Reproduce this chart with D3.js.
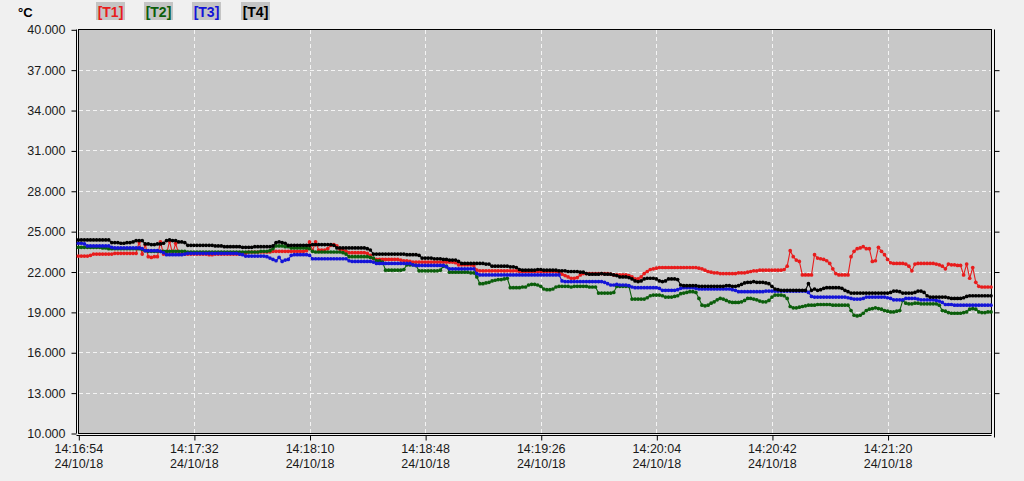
<!DOCTYPE html>
<html>
<head>
<meta charset="utf-8">
<script src="https://cdn.jsdelivr.net/npm/d3@7"></script>
<style>
  html, body { margin: 0; padding: 0; background: #f0f0f0; }
  svg { display: block; }
  text { font-family: "Liberation Sans", Arial, sans-serif; }
</style>
</head>
<body>
<svg id="chart" width="1024" height="481"></svg>
<script>
// ---- data (one sample per second, starting 14:16:54) ----
const seriesNames = ["[T1]", "[T2]", "[T3]", "[T4]"];
const seriesColors = ["#e81c1c", "#0b5e0b", "#1414d8", "#000000"];
const unitLabel = "°C";

const xTickSeconds = [0, 38, 76, 114, 152, 190, 228, 266];
const xTickTimes = ["14:16:54", "14:17:32", "14:18:10", "14:18:48", "14:19:26", "14:20:04", "14:20:42", "14:21:20"];
const xTickDate = "24/10/18";
const yTicks = [10, 13, 16, 19, 22, 25, 28, 31, 34, 37, 40];

const T1 = [
23.15,23.15,23.15,23.15,23.2,23.3,23.3,23.3,23.3,23.3,
23.3,23.3,23.35,23.35,23.35,23.35,23.35,23.35,23.35,23.35,
24.2,23.3,24.0,23.1,23.05,23.1,23.1,24.2,23.3,23.3,
24.25,23.3,24.1,23.3,23.3,23.3,23.3,23.3,23.3,23.3,
23.3,23.3,23.3,23.25,23.25,23.3,23.3,23.3,23.3,23.3,
23.3,23.3,23.3,23.3,23.35,23.35,23.45,23.45,23.45,23.45,
23.45,23.45,23.45,23.45,23.5,23.5,23.5,23.5,23.5,23.5,
23.5,23.5,23.5,23.5,23.5,23.55,24.2,23.55,24.2,23.6,
23.6,23.6,23.7,23.95,24.0,23.9,23.65,23.6,23.5,23.4,
23.4,23.4,23.4,23.4,23.4,23.35,23.2,22.95,22.9,22.9,
22.9,22.9,22.9,22.9,22.9,22.9,22.85,22.8,22.8,22.75,
22.7,22.7,22.7,22.7,22.7,22.7,22.7,22.7,22.7,22.7,
22.7,22.7,22.7,22.7,22.65,22.5,22.5,22.5,22.5,22.5,
22.45,22.1,22.05,22.05,22.05,22.05,22.05,22.05,22.05,22.05,
22.05,22.05,22.05,22.05,22.05,22.0,22.0,22.0,22.0,22.0,
22.0,22.0,22.0,22.0,22.0,22.0,22.0,22.0,21.95,21.8,
21.7,21.6,21.5,21.5,21.55,21.75,21.85,21.85,21.85,21.85,
21.85,21.85,21.85,21.85,21.85,21.8,21.75,21.75,21.75,21.75,
21.75,21.7,21.6,21.45,21.45,21.6,21.85,22.0,22.15,22.2,
22.25,22.3,22.3,22.3,22.3,22.3,22.3,22.3,22.3,22.3,
22.3,22.3,22.3,22.3,22.25,22.2,22.1,22.0,21.95,21.9,
21.9,21.85,21.85,21.85,21.85,21.85,21.85,21.9,21.9,21.9,
21.95,22.0,22.05,22.05,22.1,22.1,22.1,22.1,22.1,22.1,
22.1,22.1,22.15,22.4,23.55,23.1,22.85,22.75,21.75,21.75,
21.75,21.75,23.25,23.0,22.95,22.9,22.8,22.6,22.2,21.85,
21.75,21.75,21.75,21.75,23.1,23.5,23.7,23.75,23.85,23.7,
23.7,22.75,22.8,23.8,23.5,23.25,22.9,22.65,22.6,22.6,
22.6,22.6,22.55,22.4,22.05,22.55,22.6,22.6,22.6,22.6,
22.6,22.6,22.55,22.5,22.4,22.2,22.55,22.5,22.5,22.45,
22.45,21.75,22.55,21.5,22.3,21.2,20.9,20.85,20.85,20.85,
20.85];

const T2 = [
23.8,23.8,23.8,23.8,23.8,23.8,23.8,23.8,23.75,23.75,
23.7,23.7,23.7,23.7,23.7,23.7,23.7,23.7,23.7,23.7,
23.7,23.65,23.55,23.5,23.5,23.5,23.5,23.5,23.5,23.5,
23.5,23.5,23.5,23.5,23.5,23.5,23.45,23.45,23.45,23.45,
23.45,23.45,23.45,23.45,23.45,23.45,23.45,23.45,23.45,23.45,
23.45,23.45,23.45,23.45,23.45,23.45,23.45,23.45,23.45,23.45,
23.5,23.5,23.5,23.55,23.7,23.9,23.9,23.9,23.85,23.85,
23.75,23.75,23.75,23.75,23.75,23.75,23.7,23.5,23.45,23.45,
23.45,23.45,23.45,23.45,23.45,23.45,23.45,23.4,23.3,23.1,
23.1,23.1,23.1,23.1,23.1,23.1,23.05,23.0,22.8,22.8,
22.7,22.1,22.1,22.1,22.1,22.1,22.1,22.15,22.5,22.5,
22.5,22.45,22.05,22.05,22.05,22.05,22.05,22.05,22.05,22.1,
22.4,22.4,21.95,21.95,21.95,21.95,21.95,21.95,21.95,21.9,
21.9,21.6,21.1,21.1,21.15,21.2,21.3,21.35,21.4,21.4,
21.45,21.5,20.8,20.8,20.8,20.8,20.85,20.85,21.0,21.05,
21.05,21.0,20.9,20.7,20.65,20.65,20.7,20.85,20.9,20.9,
20.9,20.9,20.85,20.9,20.9,20.9,20.9,20.9,20.85,20.85,
20.85,20.4,20.4,20.4,20.4,20.4,20.45,20.9,20.9,20.9,
20.9,20.9,19.95,19.95,19.95,19.95,19.95,20.05,20.2,20.25,
20.25,20.25,20.2,20.1,20.1,20.1,20.15,20.2,20.35,20.4,
20.45,20.5,20.5,20.45,20.0,19.5,19.45,19.5,19.65,19.75,
19.9,20.0,19.95,19.85,19.75,19.7,19.7,19.7,19.75,19.85,
20.0,20.0,19.95,19.9,19.8,19.75,19.75,19.85,20.1,20.25,
20.25,20.25,20.2,20.0,19.4,19.3,19.3,19.35,19.4,19.45,
19.5,19.5,19.5,19.55,19.55,19.55,19.55,19.55,19.5,19.5,
19.5,19.5,19.5,19.5,19.1,18.75,18.7,18.75,18.9,19.1,
19.2,19.25,19.3,19.25,19.2,19.1,19.05,19.0,19.0,19.05,
19.1,19.85,19.65,19.6,19.6,19.65,19.65,19.6,19.6,19.6,
19.6,19.6,19.6,19.5,19.1,19.05,18.95,18.9,18.9,18.9,
18.9,18.95,19.0,19.2,19.25,19.2,19.0,18.95,18.95,19.0,
19.0];

const T3 = [
24.1,24.1,24.05,23.9,23.9,23.9,23.9,23.9,23.9,23.9,
23.9,23.8,23.75,23.75,23.75,23.75,23.75,23.75,23.75,23.75,
23.75,23.7,23.55,23.55,23.55,23.55,23.55,23.5,23.4,23.25,
23.25,23.25,23.25,23.25,23.25,23.3,23.35,23.35,23.35,23.35,
23.35,23.35,23.35,23.35,23.35,23.35,23.35,23.35,23.35,23.35,
23.35,23.35,23.35,23.3,23.25,23.15,23.15,23.15,23.15,23.15,
23.15,23.15,23.1,23.0,22.9,22.8,23.05,22.75,22.85,22.9,
23.2,23.25,23.25,23.25,23.25,23.25,23.2,22.95,22.95,22.95,
22.95,22.95,22.95,22.95,22.95,22.95,22.95,22.95,22.95,22.8,
22.75,22.75,22.75,22.75,22.75,22.75,22.75,22.7,22.6,22.6,
22.6,22.6,22.6,22.6,22.6,22.6,22.6,22.6,22.6,22.6,
22.5,22.45,22.45,22.45,22.45,22.45,22.45,22.45,22.45,22.45,
22.45,22.35,22.2,22.2,22.2,22.2,22.2,22.2,22.2,22.2,
22.2,21.85,21.75,21.75,21.75,21.75,21.75,21.75,21.75,21.75,
21.75,21.75,21.75,21.75,21.75,21.75,21.75,21.75,21.75,21.75,
21.75,21.75,21.75,21.75,21.75,21.75,21.75,21.75,21.75,21.3,
21.25,21.25,21.25,21.25,21.25,21.25,21.25,21.25,21.25,21.25,
21.25,21.25,21.25,21.2,21.1,21.0,21.0,21.05,21.0,21.0,
21.0,20.95,20.85,20.8,20.8,20.8,20.8,20.8,20.8,20.8,
20.8,20.75,20.6,20.6,20.6,20.6,20.6,20.65,20.75,20.8,
20.8,20.8,20.8,20.75,20.7,20.7,20.7,20.7,20.7,20.7,
20.7,20.7,20.7,20.7,20.7,20.65,20.6,20.5,20.5,20.5,
20.5,20.5,20.5,20.5,20.5,20.5,20.55,20.55,20.55,20.55,
20.55,20.55,20.55,20.55,20.55,20.55,20.55,20.55,20.55,20.55,
20.45,20.15,20.1,20.1,20.1,20.1,20.1,20.1,20.1,20.1,
20.1,20.1,20.1,20.05,20.0,19.95,19.95,19.95,20.0,20.1,
20.1,20.1,20.1,20.1,20.1,20.1,20.05,20.0,19.9,19.9,
19.9,19.9,20.0,20.0,20.0,20.0,19.95,19.9,19.9,19.9,
19.9,19.9,19.85,19.8,19.7,19.55,19.55,19.55,19.5,19.5,
19.5,19.5,19.5,19.5,19.5,19.5,19.5,19.5,19.5,19.5,
19.5];

const T4 = [
24.35,24.35,24.35,24.35,24.35,24.35,24.35,24.35,24.35,24.35,
24.35,24.15,24.15,24.15,24.1,24.1,24.15,24.15,24.2,24.3,
24.3,24.3,24.05,24.05,24.0,24.0,24.05,24.05,24.1,24.3,
24.35,24.3,24.3,24.2,24.2,24.15,23.95,23.95,23.95,23.95,
23.95,23.95,23.95,23.95,23.95,23.9,23.9,23.9,23.85,23.85,
23.85,23.85,23.85,23.85,23.8,23.8,23.8,23.8,23.85,23.85,
23.85,23.85,23.85,23.85,23.9,24.15,24.2,24.15,24.1,23.95,
23.95,23.95,23.95,23.95,23.95,23.95,23.95,24.0,24.0,24.0,
24.0,24.0,24.0,24.0,23.95,23.75,23.75,23.75,23.75,23.75,
23.75,23.75,23.75,23.75,23.75,23.7,23.6,23.3,23.3,23.3,
23.3,23.3,23.3,23.3,23.3,23.3,23.3,23.3,23.25,23.25,
23.25,23.25,23.2,23.0,23.0,23.0,23.0,22.95,22.95,22.95,
22.9,22.9,22.85,22.85,22.85,22.75,22.6,22.6,22.6,22.6,
22.6,22.6,22.6,22.6,22.55,22.55,22.4,22.4,22.4,22.4,
22.4,22.4,22.35,22.35,22.3,22.15,22.1,22.1,22.1,22.1,
22.1,22.15,22.15,22.1,22.1,22.1,22.1,22.1,22.05,22.05,
22.05,22.0,22.0,22.0,22.0,21.95,21.95,21.85,21.8,21.8,
21.8,21.8,21.85,21.8,21.8,21.8,21.75,21.7,21.6,21.6,
21.6,21.55,21.45,21.3,21.25,21.3,21.45,21.5,21.5,21.5,
21.45,21.3,21.25,21.3,21.45,21.45,21.45,21.4,21.0,20.95,
20.95,20.95,20.95,20.95,20.9,20.9,20.9,20.9,20.9,20.9,
20.9,20.9,20.9,20.95,20.95,20.9,20.9,20.95,21.05,21.15,
21.2,21.2,21.25,21.2,21.2,21.2,21.15,21.1,20.9,20.7,
20.65,20.6,20.6,20.6,20.6,20.6,20.6,20.6,20.6,20.6,
21.1,20.6,20.7,20.6,20.65,20.75,20.8,20.8,20.8,20.8,
20.8,20.75,20.6,20.5,20.4,20.4,20.4,20.4,20.4,20.4,
20.4,20.4,20.4,20.4,20.4,20.4,20.4,20.45,20.55,20.55,
20.5,20.4,20.4,20.4,20.4,20.45,20.55,20.55,20.45,20.2,
20.1,20.1,20.1,20.1,20.1,20.1,20.05,20.0,20.0,20.0,
20.0,20.05,20.15,20.2,20.2,20.2,20.2,20.2,20.2,20.2,
20.2];

const seriesValues = [T1, T2, T3, T4];

// ---- layout ----
const plotLeft = 78, plotRight = 991, plotTop = 29, plotBottom = 433;
const svg = d3.select("#chart");

const x = d3.scaleLinear().domain([0, 300]).range([plotLeft + 0.3, plotRight]);
const y = d3.scaleLinear().domain([10, 40]).range([plotBottom, plotTop + 0.3]);

// plot background
svg.append("rect")
  .attr("x", plotLeft + 0.5).attr("y", plotTop + 0.5)
  .attr("width", plotRight - plotLeft).attr("height", plotBottom - plotTop)
  .attr("fill", "#c8c8c8").attr("stroke", "#000").attr("stroke-width", 1);

// grid
const grid = svg.append("g");
grid.selectAll("line.gy").data(yTicks.filter(v => v > 10 && v < 40)).join("line")
  .attr("x1", plotLeft + 1).attr("x2", plotRight)
  .attr("y1", d => Math.round(y(d)) + 0.5).attr("y2", d => Math.round(y(d)) + 0.5)
  .attr("stroke", "#f4f4f4").attr("stroke-dasharray", "4,3");
grid.selectAll("line.gx").data(xTickSeconds.filter(v => v > 0)).join("line")
  .attr("y1", plotTop + 1).attr("y2", plotBottom)
  .attr("x1", d => Math.round(x(d)) + 0.5).attr("x2", d => Math.round(x(d)) + 0.5)
  .attr("stroke", "#f4f4f4").attr("stroke-dasharray", "4,3");

// left axis
const yAxis = d3.axisLeft(y).tickValues(yTicks).tickSize(5).tickPadding(6)
  .tickFormat(d => d.toFixed(3));
const gy = svg.append("g").attr("transform", "translate(76.5,0.5)").call(yAxis);
gy.select(".domain").attr("d", `M0,${plotTop}V${plotBottom}`);
gy.selectAll("text").attr("font-size", 12.5).attr("fill", "#1a1a1a")
  .attr("font-family", "'Liberation Sans', Arial, sans-serif");

// right axis (no labels)
const yAxisR = d3.axisRight(y).tickValues(yTicks.filter(v => v > 10 && v < 40)).tickSize(5).tickFormat("");
const gyr = svg.append("g").attr("transform", "translate(994.5,0.5)").call(yAxisR);
gyr.select(".domain").attr("d", `M0,${plotTop}V${plotBottom + 4}`);

// bottom axis
const xAxis = d3.axisBottom(x).tickValues(xTickSeconds).tickSize(5).tickFormat("");
const gx = svg.append("g").attr("transform", "translate(0.5,435.5)").call(xAxis);
gx.select(".domain").attr("d", `M${plotLeft - 2},0H${plotRight}`);
const xl = svg.append("g");
xl.selectAll("text.t").data(xTickSeconds).join("text")
  .attr("x", d => x(d) + 0.5).attr("y", 453).attr("text-anchor", "middle")
  .attr("font-size", 12.5).attr("fill", "#1a1a1a")
  .text((d, i) => xTickTimes[i]);
xl.selectAll("text.d").data(xTickSeconds).join("text")
  .attr("x", d => x(d) + 0.5).attr("y", 468).attr("text-anchor", "middle")
  .attr("font-size", 12.5).attr("fill", "#1a1a1a")
  .text(xTickDate);

// series
const line = d3.line().x((d, i) => x(i)).y(d => y(d));
const plot = svg.append("g");
seriesValues.forEach((vals, k) => {
  const g = plot.append("g");
  g.append("path").datum(vals).attr("d", line)
    .attr("fill", "none").attr("stroke", seriesColors[k]).attr("stroke-width", 1.1);
  g.selectAll("circle").data(vals).join("circle")
    .attr("cx", (d, i) => x(i)).attr("cy", d => y(d)).attr("r", 1.85)
    .attr("fill", seriesColors[k]);
});

// legend / unit
svg.append("text").attr("x", 18).attr("y", 17).attr("font-size", 13)
  .attr("font-weight", "bold").attr("fill", "#000").text(unitLabel);
const legendX = [97, 145, 193, 242];
const lg = svg.append("g");
seriesNames.forEach((name, k) => {
  lg.append("rect").attr("x", legendX[k] - 1).attr("y", 2).attr("width", 29).attr("height", 18)
    .attr("fill", "#c4c4c4");
  lg.append("text").attr("x", legendX[k] + 13.5).attr("y", 17).attr("text-anchor", "middle")
    .attr("font-size", 14).attr("font-weight", "bold").attr("fill", seriesColors[k]).text(name);
});
</script>
</body>
</html>
